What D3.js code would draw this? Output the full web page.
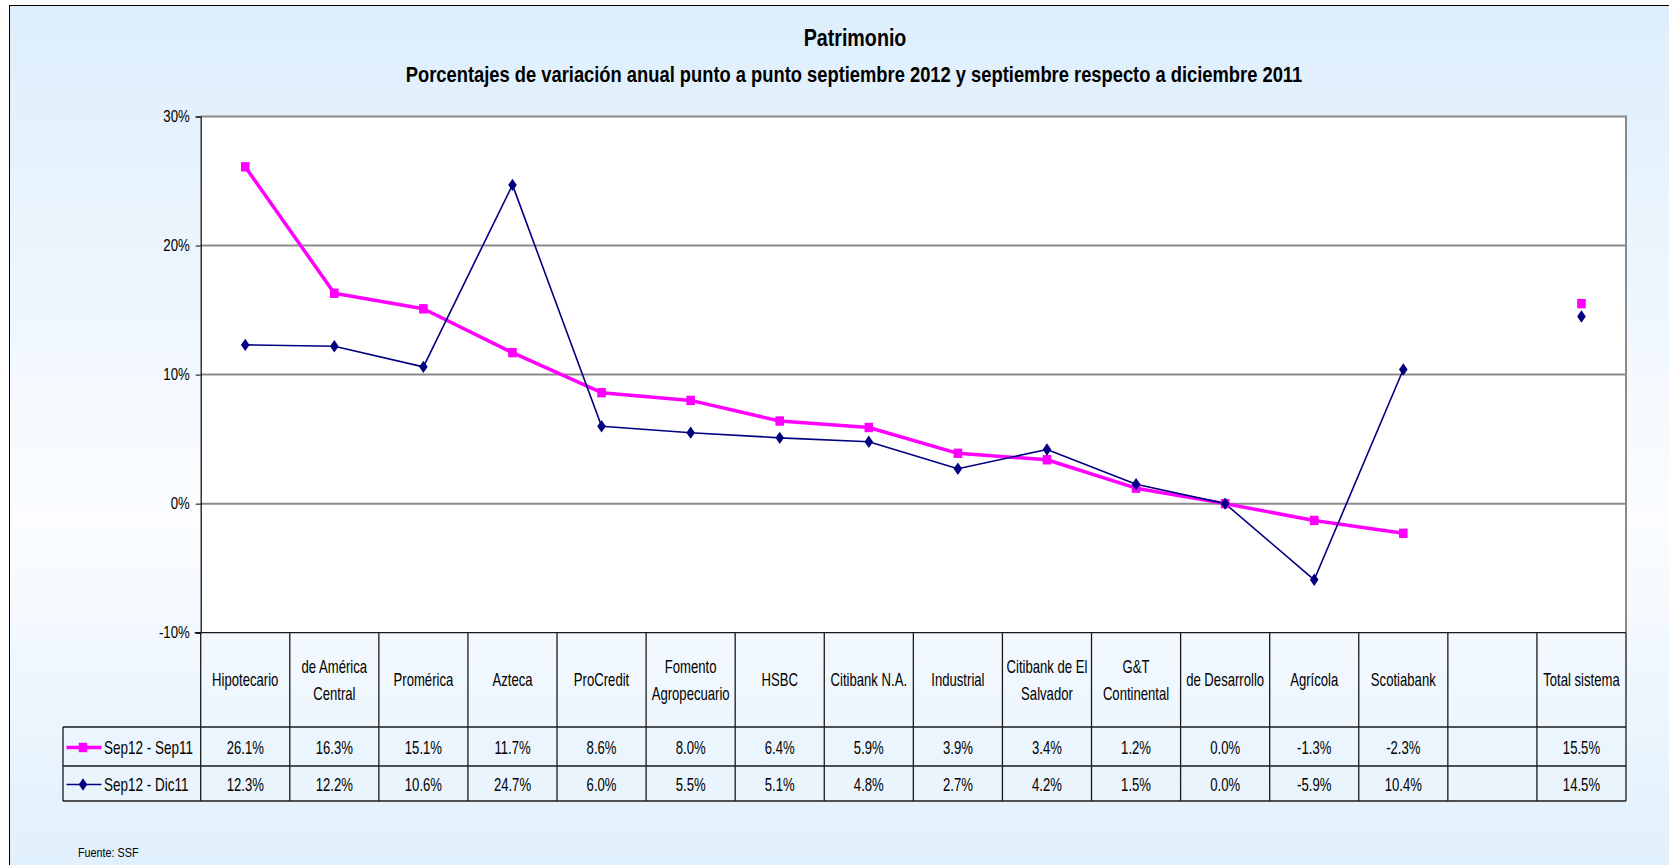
<!DOCTYPE html>
<html>
<head>
<meta charset="utf-8">
<script src="https://cdn.jsdelivr.net/npm/d3@7"></script>
<style>
  html, body { margin: 0; padding: 0; background: #ffffff; overflow: hidden; }
  svg { display: block; }
  text { font-family: "Liberation Sans", Arial, sans-serif; fill: #000; }
</style>
</head>
<body>
<svg id="chart" width="1669" height="865"></svg>
<script>
// ---- data ----
const categories = ["Hipotecario", "de América Central", "Promérica", "Azteca", "ProCredit",
  "Fomento Agropecuario", "HSBC", "Citibank N.A.", "Industrial", "Citibank de El Salvador",
  "G&T Continental", "de Desarrollo", "Agrícola", "Scotiabank", "", "Total sistema"];
const headerLines = [["Hipotecario"], ["de América", "Central"], ["Promérica"], ["Azteca"], ["ProCredit"],
  ["Fomento", "Agropecuario"], ["HSBC"], ["Citibank N.A."], ["Industrial"], ["Citibank de El", "Salvador"],
  ["G&T", "Continental"], ["de Desarrollo"], ["Agrícola"], ["Scotiabank"], [], ["Total sistema"]];
const seriesNames = ["Sep12 - Sep11", "Sep12 - Dic11"];
const sepSep = [26.1, 16.3, 15.1, 11.7, 8.6, 8.0, 6.4, 5.9, 3.9, 3.4, 1.2, 0.0, -1.3, -2.3, null, 15.5];
const sepDic = [12.3, 12.2, 10.6, 24.7, 6.0, 5.5, 5.1, 4.8, 2.7, 4.2, 1.5, 0.0, -5.9, 10.4, null, 14.5];
const yTicks = [-10, 0, 10, 20, 30];
const titleText = "Patrimonio";
const subtitleText = "Porcentajes de variación anual punto a punto septiembre 2012 y septiembre respecto a diciembre 2011";
const sourceText = "Fuente: SSF";

// ---- layout ----
const W = 1669, H = 865;
const plotL = 200.7, plotR = 1626, plotT = 116.5, plotB = 632.7;
const headB = 727, row1B = 766, row2B = 801, legL = 63;

const svg = d3.select("#chart");
const defs = svg.append("defs");
const grad = defs.append("linearGradient").attr("id", "bg").attr("x1", 0).attr("y1", 0).attr("x2", 0).attr("y2", 1);
grad.append("stop").attr("offset", "0%").attr("stop-color", "#ddeefc");
grad.append("stop").attr("offset", "58%").attr("stop-color", "#fbfdff");
grad.append("stop").attr("offset", "100%").attr("stop-color", "#deeffc");

svg.append("rect").attr("x", 9.5).attr("y", 5.5).attr("width", W + 20).attr("height", H + 20)
  .attr("fill", "url(#bg)").attr("stroke", "#000").attr("stroke-width", 1);

// condensed text helper (Arial Narrow look)
function ntext(parent, px, py, str, size, sx, anchor, weight, dy) {
  return parent.append("text")
    .attr("transform", `translate(${px},${py}) scale(${sx},1)`)
    .attr("text-anchor", anchor || "start")
    .attr("dy", dy == null ? "0.35em" : dy)
    .style("font-size", size + "px")
    .style("font-weight", weight || "normal")
    .text(str);
}

const x = d3.scaleBand().domain(categories).range([plotL, plotR]);
const y = d3.scaleLinear().domain([-10, 30]).range([plotB, plotT]);
const cx = c => x(c) + x.bandwidth() / 2;

// plot area
svg.append("rect").attr("x", plotL).attr("y", plotT).attr("width", plotR - plotL).attr("height", plotB - plotT)
  .attr("fill", "#fff");
svg.append("g").selectAll("line").data(yTicks.filter(t => t > -10)).join("line")
  .attr("x1", plotL).attr("x2", plotR).attr("y1", d => y(d)).attr("y2", d => y(d))
  .attr("stroke", "#8a8a8a").attr("stroke-width", 2);
svg.append("line").attr("x1", plotR).attr("x2", plotR).attr("y1", plotT - 1).attr("y2", plotB)
  .attr("stroke", "#8a8a8a").attr("stroke-width", 2);

// y axis
const yAxis = d3.axisLeft(y).tickValues(yTicks).tickFormat(d => d + "%").tickSize(5).tickPadding(6);
const ga = svg.append("g").attr("transform", `translate(${plotL},0)`).call(yAxis);
ga.select(".domain").attr("stroke", "#000").attr("stroke-width", 1.2);
ga.selectAll(".tick line").attr("stroke", "#000");
ga.selectAll(".tick text")
  .style("font-family", '"Liberation Sans", Arial, sans-serif')
  .style("font-size", "16.5px").attr("fill", "#000")
  .attr("x", -11 / 0.8).attr("transform", "scale(0.8,1)");

// table
const tbl = svg.append("g");
tbl.append("rect").attr("x", legL).attr("y", headB).attr("width", plotR - legL).attr("height", row2B - headB)
  .attr("fill", "#eef6fe").attr("fill-opacity", 0.5);
tbl.append("rect").attr("x", plotL).attr("y", plotB).attr("width", plotR - plotL).attr("height", headB - plotB)
  .attr("fill", "#f2f8fe").attr("fill-opacity", 0.5);
const lineAttr = s => s.attr("stroke", "#1a1a1a").attr("stroke-width", 1.3);
lineAttr(tbl.append("line").attr("x1", plotL - 6).attr("x2", plotR).attr("y1", plotB).attr("y2", plotB));
[headB, row1B, row2B].forEach(yy => lineAttr(tbl.append("line").attr("x1", legL).attr("x2", plotR).attr("y1", yy).attr("y2", yy)));
const bounds = categories.map(c => x(c)).concat([plotR]);
bounds.forEach(xx => lineAttr(tbl.append("line").attr("x1", xx).attr("x2", xx).attr("y1", plotB).attr("y2", row2B)));
lineAttr(tbl.append("line").attr("x1", legL).attr("x2", legL).attr("y1", headB).attr("y2", row2B));

const TS = 17.5, TX = 0.75;
// header labels
categories.forEach((c, i) => {
  const lines = headerLines[i];
  const mid = (plotB + headB) / 2 + 0.5;
  const lh = 27;
  lines.forEach((ln, j) => {
    ntext(tbl, cx(c), mid + (j - (lines.length - 1) / 2) * lh, ln, TS, TX, "middle");
  });
});
// data values
const fmt = v => v == null ? "" : v.toFixed(1) + "%";
[sepSep, sepDic].forEach((vals, r) => {
  const yy = (r === 0 ? (headB + row1B) / 2 : (row1B + row2B) / 2) + 1.5;
  categories.forEach((c, i) => {
    ntext(tbl, cx(c), yy, fmt(vals[i]), TS, TX, "middle");
  });
});

// series
const series = [
  { name: seriesNames[0], vals: sepSep, color: "#ff00ff", width: 3.5, shape: "square" },
  { name: seriesNames[1], vals: sepDic, color: "#000080", width: 1.6, shape: "diamond" }
];
const diamondPath = "M0,-6.2L4.3,0L0,6.2L-4.3,0Z";
const squarePath = "M-4.3,-4.7H4.3V4.7H-4.3Z";
series.forEach(s => {
  const pts = categories.map((c, i) => ({ c, v: s.vals[i] }));
  const line = d3.line().defined(d => d.v != null).x(d => cx(d.c)).y(d => y(d.v));
  svg.append("path").datum(pts).attr("d", line).attr("fill", "none")
    .attr("stroke", s.color).attr("stroke-width", s.width).attr("stroke-linejoin", "round");
});
series.forEach(s => {
  const pts = categories.map((c, i) => ({ c, v: s.vals[i] })).filter(d => d.v != null);
  svg.append("g").selectAll("path").data(pts).join("path")
    .attr("transform", d => `translate(${cx(d.c)},${y(d.v)})`)
    .attr("d", s.shape === "square" ? squarePath : diamondPath).attr("fill", s.color);
});

// legend in table
series.forEach((s, r) => {
  const yy = (r === 0 ? (headB + row1B) / 2 : (row1B + row2B) / 2) + 1;
  svg.append("line").attr("x1", 66.5).attr("x2", 101.5).attr("y1", yy).attr("y2", yy)
    .attr("stroke", s.color).attr("stroke-width", s.width);
  svg.append("path").attr("transform", `translate(83,${yy})`)
    .attr("d", s.shape === "square" ? squarePath : diamondPath).attr("fill", s.color);
  ntext(svg, 104, yy + 0.5, s.name, 18, TX, "start");
});

// titles
ntext(svg, 855, 46, titleText, 24, 0.82, "middle", "bold", 0);
ntext(svg, 854, 82, subtitleText, 22.5, 0.815, "middle", "bold", 0);
ntext(svg, 78, 857, sourceText, 13.5, 0.8, "start", "normal", 0);
</script>
</body>
</html>
